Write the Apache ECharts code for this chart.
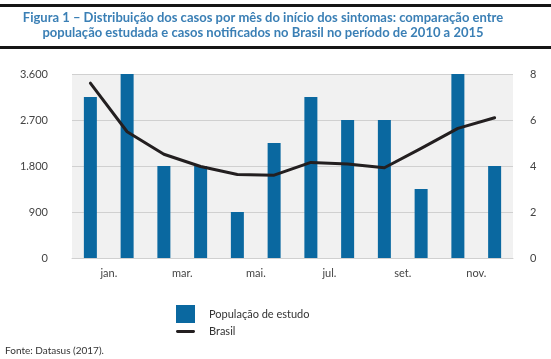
<!DOCTYPE html>
<html>
<head>
<meta charset="utf-8">
<script src="https://cdn.jsdelivr.net/npm/echarts@6/dist/echarts.min.js"></script>
<style>html,body{margin:0;padding:0;background:#fff}#c{width:551px;height:359px}</style>
</head>
<body>
<div id="c"></div>
<script>
const categories = ['jan.','fev.','mar.','abr.','mai.','jun.','jul.','ago.','set.','out.','nov.','dez.'];
const estudo = [7, 8, 4, 4, 2, 5, 7, 6, 6, 3, 8, 4];
const brasil = [3420, 2470, 2030, 1790, 1635, 1620, 1870, 1840, 1765, 2145, 2535, 2745];
const leftTicks = [0, 900, 1800, 2700, 3600];
const rightTicks = [0, 2, 4, 6, 8];

const chart = echarts.init(document.getElementById('c'));
const font = 'Lato, "Open Sans", sans-serif';
chart.setOption({
  animation: false,
  textStyle: { fontFamily: font },
  title: {
    text: 'Figura 1 – Distribuição dos casos por mês do início dos sintomas: comparação entre\npopulação estudada e casos notificados no Brasil no período de 2010 a 2015',
    left: 263, top: 10, padding: 0,
    textAlign: 'center',
    textStyle: { fontFamily: font, fontSize: 13, fontWeight: 'bold', color: '#3a7fb5', lineHeight: 15 }
  },
  graphic: [
    { type: 'rect', shape: { x: 0, y: 4, width: 551, height: 3 }, style: { fill: '#151515' } },
    { type: 'rect', shape: { x: 0, y: 46, width: 551, height: 3 }, style: { fill: '#151515' } },
    { type: 'text', left: 5, top: 346, style: { text: 'Fonte: Datasus (2017).', fontFamily: font, fontSize: 10, fill: '#333' } }
  ],
  legend: {
    orient: 'vertical', left: 171, top: 300,
    itemWidth: 19, itemHeight: 18, itemGap: 3,
    symbolKeepAspect: true,
    textStyle: { fontFamily: font, fontSize: 11, color: '#333', padding: [0, 0, 0, 9] },
    data: [
      { name: 'População de estudo', icon: 'rect' },
      { name: 'Brasil', icon: 'path://M1.5,0 L18.5,0 A1.5,1.5 0 0 1 18.5,3 L1.5,3 A1.5,1.5 0 0 1 1.5,0 Z' }
    ]
  },
  grid: { left: 72, right: 38, top: 74, bottom: 101, show: true, backgroundColor: '#f1f1f1', borderWidth: 0 },
  xAxis: {
    type: 'category', data: categories,
    axisLine: { show: true, lineStyle: { color: '#d0d0d0' } },
    axisTick: { show: false },
    axisLabel: { interval: 1, color: '#444', fontSize: 11, margin: 10, padding: [0, 0, 0, 37] }
  },
  yAxis: [
    {
      type: 'value', min: 0, max: 3600, interval: 900, position: 'left',
      axisLine: { show: false }, axisTick: { show: false },
      splitLine: { lineStyle: { color: '#d0d0d0' } },
      axisLabel: { color: '#444', fontSize: 11, margin: 24,
        formatter: v => v >= 1000 ? Math.floor(v / 1000) + '.' + String(v % 1000).padStart(3, '0') : String(v) }
    },
    {
      type: 'value', min: 0, max: 8, interval: 2, position: 'right',
      axisLine: { show: false }, axisTick: { show: false },
      splitLine: { show: false },
      axisLabel: { color: '#444', fontSize: 11, margin: 17 }
    }
  ],
  series: [
    {
      name: 'População de estudo', type: 'bar', yAxisIndex: 1, data: estudo,
      barWidth: 13, itemStyle: { color: '#0a68a0' }
    },
    {
      name: 'Brasil', type: 'line', yAxisIndex: 0, data: brasil,
      symbol: 'none', lineStyle: { color: '#231f20', width: 3, cap: 'round', join: 'round' },
      itemStyle: { color: '#231f20' }
    }
  ]
});
</script>
</body>
</html>
